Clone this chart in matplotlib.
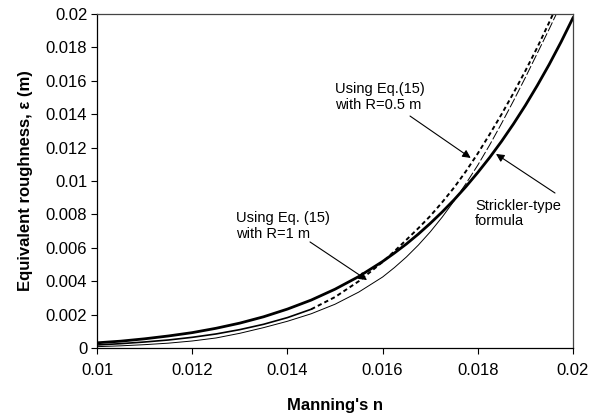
import numpy as np
import matplotlib
matplotlib.use("Agg")
import matplotlib.pyplot as plt
from matplotlib.ticker import FuncFormatter

plt.rcParams['font.family'] = ['Liberation Sans', 'DejaVu Sans']

# Manning's n values (x axis)
n_vals = [0.0100, 0.0105, 0.0110, 0.0115, 0.0120, 0.0125, 0.0130, 0.0135,
          0.0140, 0.0145, 0.0150, 0.0155, 0.0160, 0.01625, 0.0165, 0.01675,
          0.0170, 0.01725, 0.0175, 0.01775, 0.0180, 0.01825, 0.0185, 0.01875,
          0.0190, 0.01925, 0.0195, 0.01975, 0.0200]

# Strickler-type formula (thick solid)
eps_strickler = [0.00031, 0.00041, 0.00055, 0.00072, 0.00092, 0.00118, 0.00149,
                 0.00187, 0.00233, 0.00287, 0.00352, 0.00428, 0.00518, 0.00569,
                 0.00623, 0.00682, 0.00746, 0.00814, 0.00887, 0.00966, 0.01051,
                 0.01141, 0.01238, 0.01342, 0.01453, 0.01572, 0.01698, 0.01833,
                 0.01977]

# Eq.(15) with R=0.5 m (bold short dash)
n_r05 = [0.0100, 0.0105, 0.0110, 0.0115, 0.0120, 0.0125, 0.0130, 0.0135,
         0.0140, 0.0145, 0.0150, 0.0155, 0.0160, 0.01625, 0.0165, 0.01675,
         0.0170, 0.01725, 0.0175, 0.01775, 0.0180, 0.01825, 0.0185, 0.01875,
         0.0190, 0.01925, 0.0195, 0.01958]
eps_r05 = [0.00018, 0.00026, 0.00036, 0.00048, 0.00064, 0.00084, 0.00110,
           0.00142, 0.00182, 0.00232, 0.00305, 0.00400, 0.00515, 0.00580,
           0.00648, 0.00717, 0.00790, 0.00872, 0.00960, 0.01058, 0.01165,
           0.01280, 0.01400, 0.01527, 0.01660, 0.01800, 0.01950, 0.02000]

# Eq.(15) with R=1 m (thin)
n_r1 = [0.0100, 0.0105, 0.0110, 0.0115, 0.0120, 0.0125, 0.0130, 0.0135,
        0.0140, 0.0145, 0.0150, 0.0155, 0.0160, 0.01625, 0.0165, 0.01675,
        0.0170, 0.01725, 0.0175, 0.01775, 0.0180, 0.01825, 0.0185, 0.01875,
        0.0190, 0.01925, 0.0195, 0.01965]
eps_r1 = [0.00008, 0.00013, 0.00020, 0.00029, 0.00042, 0.00060, 0.00088,
          0.00122, 0.00160, 0.00205, 0.00262, 0.00335, 0.00425, 0.00482,
          0.00545, 0.00616, 0.00695, 0.00783, 0.00880, 0.00984, 0.01095,
          0.01216, 0.01345, 0.01480, 0.01620, 0.01765, 0.01910, 0.02000]

x_ticks = [0.01, 0.012, 0.014, 0.016, 0.018, 0.02]
y_ticks = [0, 0.002, 0.004, 0.006, 0.008, 0.01, 0.012, 0.014, 0.016, 0.018, 0.02]

fig = plt.figure(figsize=(6, 4.16), dpi=100)
ax = fig.add_axes([97 / 600, 1 - 348 / 416, 476 / 600, 334 / 416])

ax.plot(n_vals, eps_strickler, color='black', lw=2.0, solid_joinstyle='round')

# dashes only become visible on the steep part of the curves
i05 = n_r05.index(0.0145)
ax.plot(n_r05[:i05 + 1], eps_r05[:i05 + 1], color='black', lw=1.2)
ax.plot(n_r05[i05:], eps_r05[i05:], color='black', lw=1.4, linestyle=(0, (2.2, 1.6)))

i1 = n_r1.index(0.0175)
ax.plot(n_r1[:i1 + 1], eps_r1[:i1 + 1], color='black', lw=0.7)
ax.plot(n_r1[i1:], eps_r1[i1:], color='black', lw=0.7, linestyle=(0, (10, 2.5)))

ax.set_xlim(0.01, 0.02)
ax.set_ylim(0, 0.02)
ax.set_xticks(x_ticks)
ax.set_yticks(y_ticks)
fmt = FuncFormatter(lambda v, p: '%g' % round(v, 4))
ax.xaxis.set_major_formatter(fmt)
ax.yaxis.set_major_formatter(fmt)
ax.tick_params(direction='out', length=4, width=0.8, labelsize=12, pad=3)
ax.tick_params(axis='x', pad=7)
for s in ax.spines.values():
    s.set_linewidth(0.9)
ax.spines['top'].set_color('#444444')
ax.spines['right'].set_color('#444444')

ax.set_xlabel("Manning's n", fontsize=12, fontweight='bold', labelpad=14)
ax.set_ylabel("Equivalent roughness, ε (m)", fontsize=12, fontweight='bold', labelpad=9)

arrow = dict(arrowstyle='-|>', color='black', lw=0.8, mutation_scale=12, shrinkA=0, shrinkB=0)

ax.text(0.01500, 0.01503, "Using Eq.(15)\nwith R=0.5 m", fontsize=10.5, va='center', ha='left',
        linespacing=1.15)
ax.annotate("", xy=(0.017851, 0.01138), xytext=(0.016576, 0.01389), arrowprops=arrow)

ax.text(0.01292, 0.00731, "Using Eq. (15)\nwith R=1 m", fontsize=10.5, va='center', ha='left',
        linespacing=1.15)
ax.annotate("", xy=(0.015672, 0.00407), xytext=(0.014475, 0.00635), arrowprops=arrow)

ax.text(0.01794, 0.00805, "Strickler-type\nformula", fontsize=10.5, va='center', ha='left',
        linespacing=1.15)
ax.annotate("", xy=(0.018382, 0.01162), xytext=(0.019622, 0.00928), arrowprops=arrow)

fig.savefig("out.png", dpi=100)
